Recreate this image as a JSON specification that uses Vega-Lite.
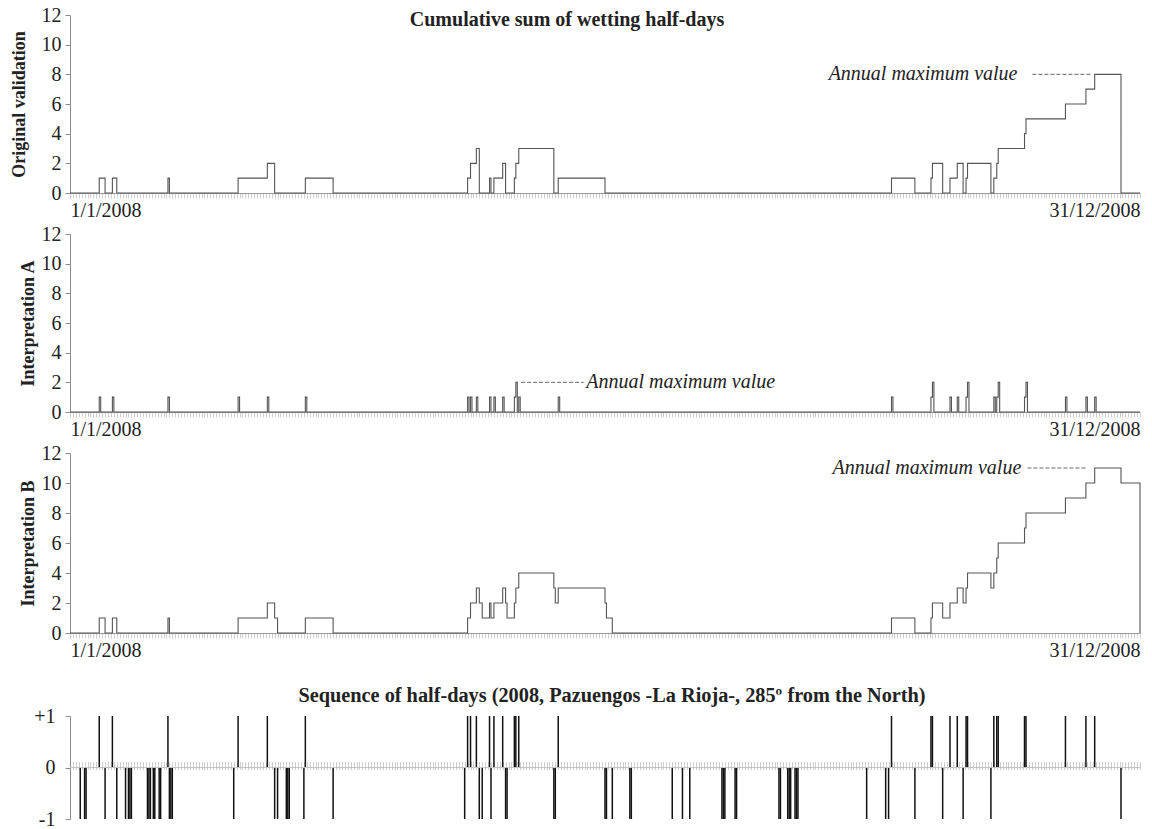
{
  "$schema": "https://vega.github.io/schema/vega-lite/v6.json",
  "padding": {"left": 10, "top": 5, "right": 5, "bottom": 0},
  "spacing": 4,
  "config": {
    "font": "Liberation Serif",
    "view": {"stroke": null},
    "axis": {"labelFont": "Liberation Serif", "titleFont": "Liberation Serif", "labelColor": "#222222", "titleColor": "#222222", "grid": false},
    "axisY": {"labelOverlap": false},
    "title": {"font": "Liberation Serif", "color": "#222222", "fontWeight": "bold", "frame": "group"}
  },
  "datasets": {
    "orig": [
      {"day": 0, "count": 0}, {"day": 10, "count": 1}, {"day": 12, "count": 0}, {"day": 14.5, "count": 1}, {"day": 16, "count": 0},
      {"day": 33.5, "count": 1}, {"day": 34, "count": 0}, {"day": 57.5, "count": 1}, {"day": 67.5, "count": 2}, {"day": 70, "count": 0},
      {"day": 80.5, "count": 1}, {"day": 90, "count": 0}, {"day": 136, "count": 1}, {"day": 137, "count": 2}, {"day": 139, "count": 3},
      {"day": 140, "count": 0}, {"day": 143.5, "count": 1}, {"day": 144, "count": 0}, {"day": 145, "count": 1}, {"day": 148, "count": 2},
      {"day": 149, "count": 0}, {"day": 152, "count": 1}, {"day": 152.5, "count": 2}, {"day": 153.5, "count": 3}, {"day": 165.5, "count": 0},
      {"day": 167, "count": 1}, {"day": 183, "count": 0}, {"day": 281, "count": 1}, {"day": 289, "count": 0}, {"day": 294.5, "count": 1},
      {"day": 295, "count": 2}, {"day": 298.5, "count": 0}, {"day": 301, "count": 1}, {"day": 303.5, "count": 2}, {"day": 305.5, "count": 0},
      {"day": 306.5, "count": 1}, {"day": 307, "count": 2}, {"day": 315, "count": 0}, {"day": 316, "count": 1}, {"day": 317, "count": 2},
      {"day": 317.5, "count": 3}, {"day": 326.5, "count": 4}, {"day": 327, "count": 5}, {"day": 340.5, "count": 6}, {"day": 347.5, "count": 7},
      {"day": 350.5, "count": 8}, {"day": 359.5, "count": 0}, {"day": 366, "count": 0}
    ],
    "interpA": [
      {"day": 0, "count": 0}, {"day": 10, "count": 1}, {"day": 10.5, "count": 0}, {"day": 14.5, "count": 1}, {"day": 15, "count": 0},
      {"day": 33.5, "count": 1}, {"day": 34, "count": 0}, {"day": 57.5, "count": 1}, {"day": 58, "count": 0}, {"day": 67.5, "count": 1},
      {"day": 68, "count": 0}, {"day": 80.5, "count": 1}, {"day": 81, "count": 0}, {"day": 136, "count": 1}, {"day": 136.5, "count": 0},
      {"day": 137, "count": 1}, {"day": 137.5, "count": 0}, {"day": 139, "count": 1}, {"day": 139.5, "count": 0}, {"day": 143.5, "count": 1},
      {"day": 144, "count": 0}, {"day": 145, "count": 1}, {"day": 145.5, "count": 0}, {"day": 148, "count": 1}, {"day": 148.5, "count": 0},
      {"day": 152, "count": 1}, {"day": 152.5, "count": 2}, {"day": 153, "count": 0}, {"day": 153.5, "count": 1}, {"day": 154, "count": 0},
      {"day": 167, "count": 1}, {"day": 167.5, "count": 0}, {"day": 281, "count": 1}, {"day": 281.5, "count": 0}, {"day": 294.5, "count": 1},
      {"day": 295, "count": 2}, {"day": 295.5, "count": 0}, {"day": 301, "count": 1}, {"day": 301.5, "count": 0}, {"day": 303.5, "count": 1},
      {"day": 304, "count": 0}, {"day": 306.5, "count": 1}, {"day": 307, "count": 2}, {"day": 307.5, "count": 0}, {"day": 316, "count": 1},
      {"day": 316.5, "count": 0}, {"day": 317, "count": 1}, {"day": 317.5, "count": 2}, {"day": 318, "count": 0}, {"day": 326.5, "count": 1},
      {"day": 327, "count": 2}, {"day": 327.5, "count": 0}, {"day": 340.5, "count": 1}, {"day": 341, "count": 0}, {"day": 347.5, "count": 1},
      {"day": 348, "count": 0}, {"day": 350.5, "count": 1}, {"day": 351, "count": 0}, {"day": 366, "count": 0}
    ],
    "interpB": [
      {"day": 0, "count": 0}, {"day": 10, "count": 1}, {"day": 12, "count": 0}, {"day": 14.5, "count": 1}, {"day": 16, "count": 0},
      {"day": 33.5, "count": 1}, {"day": 34, "count": 0}, {"day": 57.5, "count": 1}, {"day": 67.5, "count": 2}, {"day": 70, "count": 1},
      {"day": 71, "count": 0}, {"day": 80.5, "count": 1}, {"day": 90, "count": 0}, {"day": 136, "count": 1}, {"day": 137, "count": 2},
      {"day": 139, "count": 3}, {"day": 140, "count": 2}, {"day": 141, "count": 1}, {"day": 143.5, "count": 2}, {"day": 144, "count": 1},
      {"day": 145, "count": 2}, {"day": 148, "count": 3}, {"day": 149, "count": 2}, {"day": 149.5, "count": 1}, {"day": 152, "count": 2},
      {"day": 152.5, "count": 3}, {"day": 153.5, "count": 4}, {"day": 165.5, "count": 3}, {"day": 166, "count": 2}, {"day": 167, "count": 3},
      {"day": 183, "count": 2}, {"day": 183.5, "count": 1}, {"day": 185.5, "count": 0}, {"day": 281, "count": 1}, {"day": 289, "count": 0},
      {"day": 294.5, "count": 1}, {"day": 295, "count": 2}, {"day": 298.5, "count": 1}, {"day": 301, "count": 2}, {"day": 303.5, "count": 3},
      {"day": 305.5, "count": 2}, {"day": 306.5, "count": 3}, {"day": 307, "count": 4}, {"day": 315, "count": 3}, {"day": 316, "count": 4},
      {"day": 317, "count": 5}, {"day": 317.5, "count": 6}, {"day": 326.5, "count": 7}, {"day": 327, "count": 8}, {"day": 340.5, "count": 9},
      {"day": 347.5, "count": 10}, {"day": 350.5, "count": 11}, {"day": 359.5, "count": 10}, {"day": 366, "count": 0}
    ],
    "seq": [
      {"day": 3.5, "value": -1}, {"day": 5, "value": -1}, {"day": 5.5, "value": -1}, {"day": 10, "value": 1}, {"day": 12, "value": -1},
      {"day": 14.5, "value": 1}, {"day": 16, "value": -1}, {"day": 19, "value": -1}, {"day": 20, "value": -1}, {"day": 20.5, "value": -1},
      {"day": 21, "value": -1}, {"day": 26.5, "value": -1}, {"day": 27, "value": -1}, {"day": 27.5, "value": -1}, {"day": 28.5, "value": -1},
      {"day": 29, "value": -1}, {"day": 30.5, "value": -1}, {"day": 31, "value": -1}, {"day": 33.5, "value": 1}, {"day": 34, "value": -1},
      {"day": 34.5, "value": -1}, {"day": 35, "value": -1}, {"day": 56, "value": -1}, {"day": 57.5, "value": 1}, {"day": 67.5, "value": 1},
      {"day": 70, "value": -1}, {"day": 71, "value": -1}, {"day": 74, "value": -1}, {"day": 74.5, "value": -1}, {"day": 75, "value": -1},
      {"day": 80, "value": -1}, {"day": 80.5, "value": 1}, {"day": 90, "value": -1}, {"day": 135, "value": -1}, {"day": 136, "value": 1},
      {"day": 137, "value": 1}, {"day": 139, "value": 1}, {"day": 140, "value": -1}, {"day": 141, "value": -1}, {"day": 143.5, "value": 1},
      {"day": 144, "value": -1}, {"day": 145, "value": 1}, {"day": 148, "value": 1}, {"day": 149, "value": -1}, {"day": 149.5, "value": -1},
      {"day": 152, "value": 1}, {"day": 152.5, "value": 1}, {"day": 153.5, "value": 1}, {"day": 165.5, "value": -1}, {"day": 166, "value": -1},
      {"day": 167, "value": 1}, {"day": 183, "value": -1}, {"day": 183.5, "value": -1}, {"day": 185.5, "value": -1}, {"day": 191.5, "value": -1},
      {"day": 192, "value": -1}, {"day": 206, "value": -1}, {"day": 209.5, "value": -1}, {"day": 212, "value": -1}, {"day": 223, "value": -1},
      {"day": 223.5, "value": -1}, {"day": 224, "value": -1}, {"day": 227.5, "value": -1}, {"day": 228, "value": -1}, {"day": 242.5, "value": -1},
      {"day": 243, "value": -1}, {"day": 245.5, "value": -1}, {"day": 246, "value": -1}, {"day": 246.5, "value": -1}, {"day": 248, "value": -1},
      {"day": 248.5, "value": -1}, {"day": 249, "value": -1}, {"day": 272.5, "value": -1}, {"day": 279, "value": -1}, {"day": 280, "value": -1},
      {"day": 281, "value": 1}, {"day": 289, "value": -1}, {"day": 294.5, "value": 1}, {"day": 295, "value": 1}, {"day": 298.5, "value": -1},
      {"day": 301, "value": 1}, {"day": 303.5, "value": 1}, {"day": 305.5, "value": -1}, {"day": 306.5, "value": 1}, {"day": 307, "value": 1},
      {"day": 315, "value": -1}, {"day": 316, "value": 1}, {"day": 317, "value": 1}, {"day": 317.5, "value": 1}, {"day": 326.5, "value": 1},
      {"day": 327, "value": 1}, {"day": 340.5, "value": 1}, {"day": 347.5, "value": 1}, {"day": 350.5, "value": 1}, {"day": 359.5, "value": -1}
    ],
    "ann1": [{"day": 324.1, "from": 329.2, "to": 349.7, "count": 8, "label": "Annual maximum value"}],
    "ann2": [{"day": 176.6, "from": 154.3, "to": 175.7, "count": 2, "label": "Annual maximum value"}],
    "ann3": [{"day": 325.4, "from": 327.5, "to": 347.7, "count": 11, "label": "Annual maximum value"}]
  },
  "vconcat": [
    {
      "width": 1070,
      "height": 178,
      "title": {"text": "Cumulative sum of wetting half-days", "fontSize": 20, "offset": -14, "dx": -38, "dy": 10.5},
      "layer": [
        {
          "data": {"name": "orig"},
          "mark": {"type": "line", "interpolate": "step-after", "color": "#555555", "strokeWidth": 1.1},
          "encoding": {
            "x": {"field": "day", "type": "quantitative", "scale": {"domain": [0, 366], "nice": false, "zero": false},
              "axis": {"title": null, "tickCount": 366, "tickSize": 5, "tickColor": "#cfcfcf", "domainColor": "#9a9a9a", "labelExpr": "datum.value == 0 ? '1/1/2008' : (datum.value == 366 ? '31/12/2008' : '')", "labelFlush": true, "labelOverlap": false, "labelFontSize": 20, "labelPadding": 2}},
            "y": {"field": "count", "type": "quantitative", "scale": {"domain": [0, 12], "nice": false},
              "axis": {"title": "Original validation", "values": [0, 2, 4, 6, 8, 10, 12], "labelOverlap": false, "tickSize": 5, "tickColor": "#8c8c8c", "domainColor": "#8c8c8c", "labelFontSize": 20, "labelPadding": 4, "titleFontSize": 18, "titleFontWeight": "bold", "titlePadding": 13}}
          }
        },
        {
          "data": {"name": "ann1"},
          "mark": {"type": "rule", "color": "#666666", "strokeDash": [4, 2], "strokeWidth": 1},
          "encoding": {
            "x": {"field": "from", "type": "quantitative"},
            "x2": {"field": "to"},
            "y": {"field": "count", "type": "quantitative", "axis": {"title": "Original validation", "values": [0, 2, 4, 6, 8, 10, 12], "labelOverlap": false}}
          }
        },
        {
          "data": {"name": "ann1"},
          "mark": {"type": "text", "fontStyle": "italic", "fontSize": 20, "color": "#222222", "align": "right", "baseline": "middle"},
          "encoding": {
            "x": {"field": "day", "type": "quantitative"},
            "y": {"field": "count", "type": "quantitative", "axis": {"title": "Original validation", "values": [0, 2, 4, 6, 8, 10, 12], "labelOverlap": false}},
            "text": {"field": "label"}
          }
        }
      ]
    },
    {
      "width": 1070,
      "height": 178,
      "layer": [
        {
          "data": {"name": "interpA"},
          "mark": {"type": "line", "interpolate": "step-after", "color": "#555555", "strokeWidth": 1.1},
          "encoding": {
            "x": {"field": "day", "type": "quantitative", "scale": {"domain": [0, 366], "nice": false, "zero": false},
              "axis": {"title": null, "tickCount": 366, "tickSize": 5, "tickColor": "#cfcfcf", "domainColor": "#9a9a9a", "labelExpr": "datum.value == 0 ? '1/1/2008' : (datum.value == 366 ? '31/12/2008' : '')", "labelFlush": true, "labelOverlap": false, "labelFontSize": 20, "labelPadding": 2}},
            "y": {"field": "count", "type": "quantitative", "scale": {"domain": [0, 12], "nice": false},
              "axis": {"title": "Interpretation A", "values": [0, 2, 4, 6, 8, 10, 12], "labelOverlap": false, "tickSize": 5, "tickColor": "#8c8c8c", "domainColor": "#8c8c8c", "labelFontSize": 20, "labelPadding": 4, "titleFontSize": 18, "titleFontWeight": "bold", "titlePadding": 4}}
          }
        },
        {
          "data": {"name": "ann2"},
          "mark": {"type": "rule", "color": "#666666", "strokeDash": [4, 2], "strokeWidth": 1},
          "encoding": {
            "x": {"field": "from", "type": "quantitative"},
            "x2": {"field": "to"},
            "y": {"field": "count", "type": "quantitative", "axis": {"title": "Interpretation A", "values": [0, 2, 4, 6, 8, 10, 12], "labelOverlap": false}}
          }
        },
        {
          "data": {"name": "ann2"},
          "mark": {"type": "text", "fontStyle": "italic", "fontSize": 20, "color": "#222222", "align": "left", "baseline": "middle"},
          "encoding": {
            "x": {"field": "day", "type": "quantitative"},
            "y": {"field": "count", "type": "quantitative", "axis": {"title": "Interpretation A", "values": [0, 2, 4, 6, 8, 10, 12], "labelOverlap": false}},
            "text": {"field": "label"}
          }
        }
      ]
    },
    {
      "width": 1070,
      "height": 180,
      "layer": [
        {
          "data": {"name": "interpB"},
          "mark": {"type": "line", "interpolate": "step-after", "color": "#555555", "strokeWidth": 1.1},
          "encoding": {
            "x": {"field": "day", "type": "quantitative", "scale": {"domain": [0, 366], "nice": false, "zero": false},
              "axis": {"title": null, "tickCount": 366, "tickSize": 5, "tickColor": "#cfcfcf", "domainColor": "#9a9a9a", "labelExpr": "datum.value == 0 ? '1/1/2008' : (datum.value == 366 ? '31/12/2008' : '')", "labelFlush": true, "labelOverlap": false, "labelFontSize": 20, "labelPadding": 2}},
            "y": {"field": "count", "type": "quantitative", "scale": {"domain": [0, 12], "nice": false},
              "axis": {"title": "Interpretation B", "values": [0, 2, 4, 6, 8, 10, 12], "labelOverlap": false, "tickSize": 5, "tickColor": "#8c8c8c", "domainColor": "#8c8c8c", "labelFontSize": 20, "labelPadding": 4, "titleFontSize": 18, "titleFontWeight": "bold", "titlePadding": 4}}
          }
        },
        {
          "data": {"name": "ann3"},
          "mark": {"type": "rule", "color": "#666666", "strokeDash": [4, 2], "strokeWidth": 1},
          "encoding": {
            "x": {"field": "from", "type": "quantitative"},
            "x2": {"field": "to"},
            "y": {"field": "count", "type": "quantitative", "axis": {"title": "Interpretation B", "values": [0, 2, 4, 6, 8, 10, 12], "labelOverlap": false}}
          }
        },
        {
          "data": {"name": "ann3"},
          "mark": {"type": "text", "fontStyle": "italic", "fontSize": 20, "color": "#222222", "align": "right", "baseline": "middle"},
          "encoding": {
            "x": {"field": "day", "type": "quantitative"},
            "y": {"field": "count", "type": "quantitative", "axis": {"title": "Interpretation B", "values": [0, 2, 4, 6, 8, 10, 12], "labelOverlap": false}},
            "text": {"field": "label"}
          }
        }
      ]
    },
    {
      "width": 1070,
      "height": 103,
      "title": {"text": ["", "Sequence of half-days (2008, Pazuengos -La Rioja-, 285º from the North)"], "fontSize": 20.3, "lineHeight": 21, "offset": 0, "dx": 7},
      "layer": [
        {
          "data": {"name": "seq"},
          "mark": {"type": "rule", "color": "#111111", "strokeWidth": 1.5},
          "encoding": {
            "x": {"field": "day", "type": "quantitative", "scale": {"domain": [0, 366], "nice": false, "zero": false},
              "axis": {"title": null, "tickCount": 366, "tickSize": 8, "tickColor": "#cfcfcf", "domain": false, "labels": false, "offset": -57.5}},
            "y": {"field": "value", "type": "quantitative", "scale": {"domain": [-1, 1], "nice": false},
              "axis": {"title": null, "values": [-1, 0, 1], "labelOverlap": false, "labelExpr": "datum.value > 0 ? '+1' : (datum.value < 0 ? '-1' : '0')", "tickSize": 5, "tickColor": "#8c8c8c", "domainColor": "#8c8c8c", "labelFontSize": 20, "labelPadding": 10}},
            "y2": {"datum": 0}
          }
        },
        {
          "data": {"values": [{"level": 0}]},
          "mark": {"type": "rule", "color": "#c4c4c4", "strokeWidth": 1},
          "encoding": {
            "y": {"field": "level", "type": "quantitative"}
          }
        }
      ]
    }
  ]
}
